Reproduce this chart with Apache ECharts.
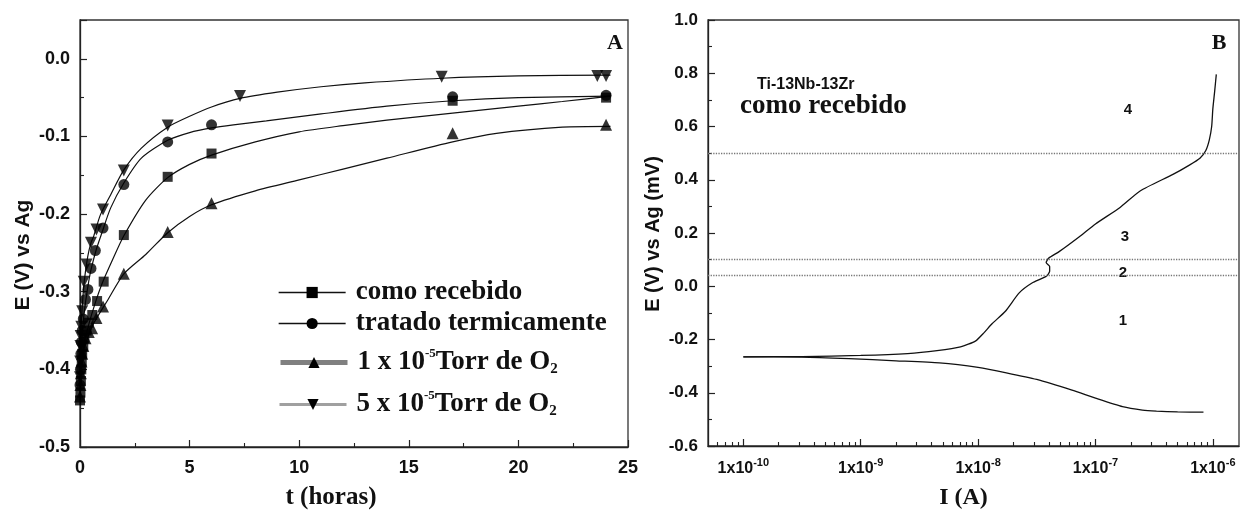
<!DOCTYPE html>
<html>
<head>
<meta charset="utf-8">
<title>E x t e curva de polarização - Ti-13Nb-13Zr</title>
<script src="https://cdn.jsdelivr.net/npm/echarts@6/dist/echarts.min.js"></script>
<style>
    html, body { margin: 0; padding: 0; background: #fff; }
    #main { width: 1247px; height: 515px; }
</style>
</head>
<body>
<div id="main"></div>
<script>
    // ---- painel A : potencial x tempo (pontos medidos) [t (h), E (V)]
    var recebidoPts = [[0,-0.44],[0.02,-0.43],[0.04,-0.415],[0.06,-0.40],[0.08,-0.39],[0.1,-0.38],[0.15,-0.37],[0.2,-0.36],[0.3,-0.35],[0.4,-0.34],[0.56,-0.33],[0.78,-0.312],[1.08,-0.287],[2,-0.227],[4,-0.152],[6,-0.122],[17,-0.054],[24,-0.05]];
    var tratadoPts = [[0,-0.42],[0.02,-0.40],[0.04,-0.38],[0.06,-0.365],[0.1,-0.35],[0.15,-0.335],[0.25,-0.31],[0.36,-0.297],[0.5,-0.27],[0.7,-0.247],[1.05,-0.218],[2,-0.162],[4,-0.107],[6,-0.085],[17,-0.049],[24,-0.047]];
    var torr1Pts = [[0,-0.435],[0.02,-0.42],[0.04,-0.405],[0.07,-0.39],[0.1,-0.38],[0.15,-0.37],[0.25,-0.36],[0.4,-0.352],[0.55,-0.347],[0.75,-0.334],[1.05,-0.319],[2,-0.277],[4,-0.223],[6,-0.186],[17,-0.096],[24,-0.085]];
    var torr5Pts = [[0,-0.41],[0.01,-0.39],[0.02,-0.37],[0.03,-0.357],[0.06,-0.345],[0.1,-0.325],[0.17,-0.287],[0.3,-0.265],[0.5,-0.237],[0.75,-0.22],[1.05,-0.194],[2,-0.144],[4,-0.086],[7.3,-0.048],[16.5,-0.023],[23.6,-0.022],[24,-0.022]];

    // curvas ajustadas
    var recebidoFit = [[0,-0.435],[0.05,-0.41],[0.1,-0.39],[0.2,-0.365],[0.4,-0.342],[0.7,-0.314],[1,-0.29],[1.5,-0.258],[2,-0.228],[3,-0.182],[4,-0.153],[5,-0.136],[6,-0.124],[8,-0.107],[10,-0.094],[12,-0.086],[14,-0.079],[17,-0.07],[20,-0.061],[22,-0.055],[24.2,-0.048]];
    var tratadoFit = [[0,-0.42],[0.05,-0.38],[0.1,-0.355],[0.2,-0.325],[0.35,-0.295],[0.5,-0.272],[0.75,-0.245],[1,-0.224],[1.4,-0.192],[2,-0.16],[2.8,-0.128],[4,-0.105],[5,-0.095],[6,-0.089],[7,-0.085],[8.5,-0.08],[11,-0.071],[14,-0.061],[17,-0.054],[20,-0.05],[24.2,-0.048]];
    var torr1Fit = [[0,-0.435],[0.05,-0.405],[0.1,-0.39],[0.2,-0.372],[0.4,-0.355],[0.6,-0.342],[0.8,-0.332],[1.24,-0.312],[2,-0.277],[3,-0.252],[4,-0.224],[5,-0.203],[6,-0.188],[8,-0.17],[10,-0.156],[12,-0.142],[14,-0.128],[17,-0.107],[19,-0.096],[22,-0.088],[24.2,-0.087]];
    var torr5Fit = [[0,-0.40],[0.05,-0.35],[0.1,-0.32],[0.2,-0.285],[0.35,-0.255],[0.5,-0.237],[0.63,-0.228],[0.93,-0.201],[1.4,-0.175],[2,-0.143],[2.8,-0.115],[4,-0.088],[5,-0.074],[6,-0.062],[7.3,-0.051],[9,-0.043],[11,-0.036],[13,-0.031],[16.5,-0.025],[20,-0.022],[24.2,-0.021]];

    var nomes = ['como recebido', 'tratado termicamente', '1 x 10-5 Torr de O2', '5 x 10-5 Torr de O2'];

    // ---- painel B : curva de polarizacao [I (A), E (V)]
    var anodico = [[1e-10,-0.265],[3.16e-10,-0.264],[1e-9,-0.26],[2.51e-9,-0.253],[4.47e-9,-0.242],[7.08e-9,-0.228],[9.55e-9,-0.205],[1.12e-8,-0.175],[1.32e-8,-0.14],[1.70e-8,-0.095],[2.24e-8,-0.025],[2.88e-8,0.012],[3.80e-8,0.037],[4.07e-8,0.056],[4.07e-8,0.074],[3.80e-8,0.089],[3.98e-8,0.105],[4.90e-8,0.13],[7.24e-8,0.185],[1e-7,0.234],[1.62e-7,0.296],[2.40e-7,0.358],[4.57e-7,0.42],[6.31e-7,0.455],[7.76e-7,0.481],[8.71e-7,0.51],[9.33e-7,0.55],[9.77e-7,0.6],[1e-6,0.667],[1.035e-6,0.73],[1.07e-6,0.796]];
    var catodico = [[1e-10,-0.265],[3.16e-10,-0.266],[7.94e-10,-0.272],[2.0e-9,-0.28],[4.68e-9,-0.288],[1e-8,-0.305],[1.74e-8,-0.325],[3.16e-8,-0.35],[6.31e-8,-0.39],[1e-7,-0.42],[1.70e-7,-0.452],[2.51e-7,-0.465],[3.31e-7,-0.469],[5.01e-7,-0.472],[8.32e-7,-0.473]];
    var limites = [0.5, 0.1, 0.04];
    var regioes = ['4', '3', '2', '1'];

    var decadas = [1e-10, 1e-9, 1e-8, 1e-7, 1e-6];
    var multMenor = [2, 3, 4, 5, 6, 7, 8, 9];
    var ticksMenores = [];
    [1e-11].concat(decadas).forEach(function (d) {
        multMenor.forEach(function (m) {
            var v = d * m;
            if (v > 5e-11 && v < 1.67e-6) ticksMenores.push(v);
        });
    });

    var preto = '#111';
    var sans = '"Liberation Sans", Arial, sans-serif';
    var serif = '"Liberation Serif", "Times New Roman", serif';

    var eixoBase = {
        axisLine: {onZero: false, lineStyle: {color: '#222', width: 1.3}},
        axisTick: {inside: true, length: 7, lineStyle: {color: '#222', width: 1.2}},
        minorTick: {show: true, splitNumber: 2, length: 4, lineStyle: {color: '#222', width: 1.1}},
        splitLine: {show: false},
        minorSplitLine: {show: false}
    };

    function fmt1(v) {
        return Math.abs(v) < 1e-9 ? '0.0' : v.toFixed(1);
    }

    function legendaTexto(name) {
        if (name.indexOf('Torr') < 0) return '{t|' + name + '}';
        return '{t|' + name.substr(0, 6) + '}{sup|-5}{t|Torr de O}{sub|2}';
    }

    var chart = echarts.init(document.getElementById('main'));

    var simbolos = ['rect', 'circle', 'triangle', 'triangle'];
    var giros = [0, 0, 0, 180];
    var tamanhos = [10, 11, 12, 12];
    var pontos = [recebidoPts, tratadoPts, torr1Pts, torr5Pts];
    var ajustes = [recebidoFit, tratadoFit, torr1Fit, torr5Fit];
    var linhaLegenda = [
        {color: '#111', width: 1.3},
        {color: '#111', width: 1.3},
        {color: '#808080', width: 5},
        {color: '#a0a0a0', width: 3}
    ];
    var legendaY = [289, 320, 357, 399];

    var series = [];
    var legendas = [];
    for (var i = 0; i < 4; i++) {
        series.push({
            name: nomes[i], type: 'line', xAxisIndex: 0, yAxisIndex: 0,
            data: ajustes[i], smooth: 0.25,
            showSymbol: false, symbol: simbolos[i], symbolRotate: giros[i], symbolSize: tamanhos[i],
            lineStyle: {color: preto, width: 1.2}, itemStyle: {color: '#000'},
            silent: true, z: 2
        });
        series.push({
            name: nomes[i], type: 'scatter', xAxisIndex: 0, yAxisIndex: 0,
            data: pontos[i], symbol: simbolos[i], symbolRotate: giros[i], symbolSize: tamanhos[i],
            itemStyle: {color: '#000'}, z: 3
        });
        legendas.push({
            data: [nomes[i]], left: 273, top: legendaY[i] - 15,
            itemWidth: 67, itemHeight: 14, selectedMode: false,
            lineStyle: linhaLegenda[i],
            formatter: legendaTexto,
            textStyle: {
                padding: [0, 0, 0, 5],
                rich: {
                    t: {fontFamily: serif, fontWeight: 'bold', fontSize: 27, color: preto, lineHeight: 30},
                    sup: {fontFamily: serif, fontWeight: 'bold', fontSize: 13, color: preto, padding: [0, 0, 18, 0]},
                    sub: {fontFamily: serif, fontWeight: 'bold', fontSize: 15, color: preto, padding: [14, 0, 0, 0]}
                }
            }
        });
    }

    series.push({
        name: 'anodico', type: 'line', xAxisIndex: 1, yAxisIndex: 1,
        data: anodico, smooth: 0.2, showSymbol: false,
        lineStyle: {color: preto, width: 1.3}, silent: true,
        markLine: {
            silent: true, symbol: 'none', label: {show: false},
            lineStyle: {type: 'dotted', color: '#777', width: 1.3},
            data: limites.map(function (y) { return {yAxis: y}; })
        }
    });
    series.push({
        name: 'catodico', type: 'line', xAxisIndex: 1, yAxisIndex: 1,
        data: catodico, smooth: 0.2, showSymbol: false,
        lineStyle: {color: preto, width: 1.3}, silent: true
    });

    var option = {
        animation: false,
        backgroundColor: '#fff',
        grid: [
            {left: 80, top: 20, width: 548, height: 429, show: true, borderColor: '#333', borderWidth: 1.3},
            {left: 708, top: 20, width: 531, height: 432, show: true, borderColor: '#333', borderWidth: 1.3}
        ],
        legend: legendas,
        xAxis: [
            Object.assign({}, eixoBase, {
                gridIndex: 0, type: 'value', min: 0, max: 25, interval: 5,
                axisLabel: {color: preto, fontFamily: sans, fontWeight: 'bold', fontSize: 18, margin: 12},
                name: 't (horas)', nameLocation: 'middle', nameGap: 38,
                nameTextStyle: {fontFamily: serif, fontWeight: 'bold', fontSize: 25, color: preto, padding: [0, 46, 0, 0]}
            }),
            Object.assign({}, eixoBase, {
                gridIndex: 1, type: 'log', logBase: 10, min: 5e-11, max: 1.67e-6,
                minorTick: {show: false},
                axisTick: {inside: true, length: 7, customValues: decadas, lineStyle: {color: '#222', width: 1.2}},
                axisLabel: {
                    customValues: decadas, margin: 11,
                    formatter: function (v) {
                        return '{b|1x10}{s|' + Math.round(Math.log10(v)) + '}';
                    },
                    rich: {
                        b: {color: preto, fontFamily: sans, fontWeight: 'bold', fontSize: 16},
                        s: {color: preto, fontFamily: sans, fontWeight: 'bold', fontSize: 11, padding: [0, 0, 12, 0]}
                    }
                },
                name: 'I (A)', nameLocation: 'middle', nameGap: 40,
                nameTextStyle: {fontFamily: serif, fontWeight: 'bold', fontSize: 24, color: preto, padding: [0, 20, 0, 0]}
            }),
            {
                gridIndex: 1, type: 'log', logBase: 10, min: 5e-11, max: 1.67e-6, position: 'bottom',
                axisLine: {show: false, onZero: false}, axisLabel: {show: false}, splitLine: {show: false},
                axisTick: {show: true, inside: true, length: 4, customValues: ticksMenores, lineStyle: {color: '#222', width: 1.1}}
            }
        ],
        yAxis: [
            Object.assign({}, eixoBase, {
                gridIndex: 0, type: 'value', min: -0.5, max: 0.05, interval: 0.1,
                axisLabel: {color: preto, fontFamily: sans, fontWeight: 'bold', fontSize: 18, margin: 10,
                    showMaxLabel: false, formatter: fmt1}
            }),
            Object.assign({}, eixoBase, {
                gridIndex: 1, type: 'value', min: -0.6, max: 1.0, interval: 0.2,
                axisLabel: {color: preto, fontFamily: sans, fontWeight: 'bold', fontSize: 17, margin: 10, formatter: fmt1}
            })
        ],
        graphic: [
            {type: 'text', x: 23, y: 255, rotation: Math.PI / 2, style: {text: 'E (V) vs Ag', font: 'bold 21px ' + sans, fill: preto, textAlign: 'center', textVerticalAlign: 'middle'}},
            {type: 'text', x: 653, y: 234, rotation: Math.PI / 2, style: {text: 'E (V) vs Ag (mV)', font: 'bold 20px ' + sans, fill: preto, textAlign: 'center', textVerticalAlign: 'middle'}},
            {type: 'text', x: 615, y: 43, style: {text: 'A', font: 'bold 22px ' + serif, fill: preto, textAlign: 'center', textVerticalAlign: 'middle'}},
            {type: 'text', x: 1219, y: 43, style: {text: 'B', font: 'bold 22px ' + serif, fill: preto, textAlign: 'center', textVerticalAlign: 'middle'}},
            {type: 'text', x: 757, y: 85, style: {text: 'Ti-13Nb-13Zr', font: 'bold 16px ' + sans, fill: preto, textVerticalAlign: 'middle'}},
            {type: 'text', x: 740, y: 106, style: {text: 'como recebido', font: 'bold 27px ' + serif, fill: preto, textVerticalAlign: 'middle'}},
            {type: 'text', x: 1128, y: 110, style: {text: regioes[0], font: 'bold 15px ' + sans, fill: preto, textAlign: 'center', textVerticalAlign: 'middle'}},
            {type: 'text', x: 1125, y: 237, style: {text: regioes[1], font: 'bold 15px ' + sans, fill: preto, textAlign: 'center', textVerticalAlign: 'middle'}},
            {type: 'text', x: 1123, y: 273, style: {text: regioes[2], font: 'bold 15px ' + sans, fill: preto, textAlign: 'center', textVerticalAlign: 'middle'}},
            {type: 'text', x: 1123, y: 321, style: {text: regioes[3], font: 'bold 15px ' + sans, fill: preto, textAlign: 'center', textVerticalAlign: 'middle'}}
        ],
        series: series
    };
    chart.setOption(option);
</script>
</body>
</html>
